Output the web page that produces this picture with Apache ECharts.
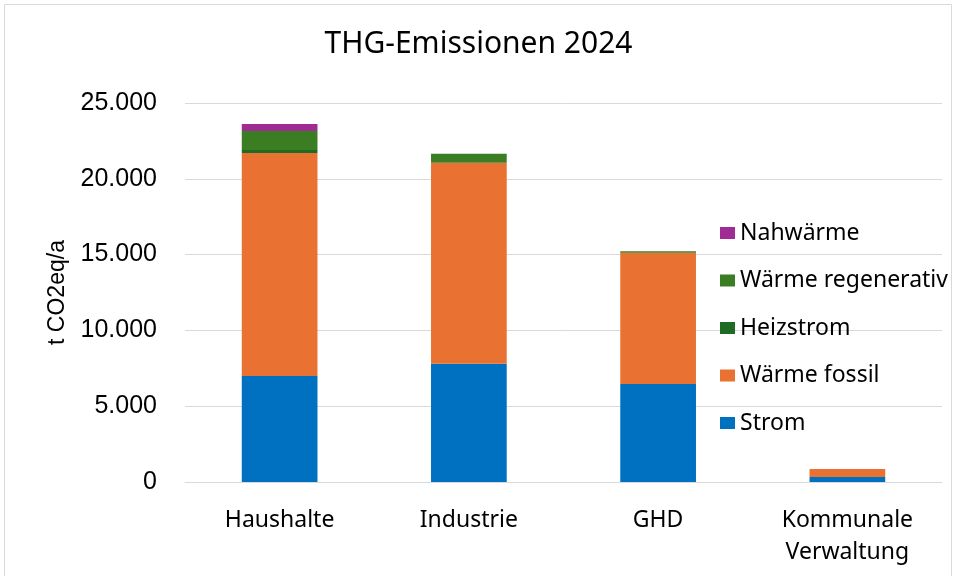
<!DOCTYPE html>
<html>
<head>
<meta charset="utf-8">
<script src="https://cdn.jsdelivr.net/npm/echarts@6/dist/echarts.min.js"></script>
<style>
  html, body { margin: 0; padding: 0; background: #fff; }
  #chart { width: 957px; height: 576px; }
</style>
</head>
<body>
<div id="chart"></div>
<script>
// data
const categories = ["Haushalte", "Industrie", "GHD", "Kommunale\nVerwaltung"];
const strom = [7000, 7800, 6460, 330];
const waermeFossil = [14700, 13260, 8670, 530];
const heizstrom = [200, 0, 0, 0];
const waermeRegenerativ = [1250, 600, 90, 0];
const nahwaerme = [460, 0, 0, 0];

const font = "'Noto Sans', sans-serif";
const arial = "'Liberation Sans', Arial, sans-serif";

const mkSeries = (name, data, color) => ({
  name: name,
  type: "bar",
  stack: "total",
  data: data,
  barWidth: "40%",
  itemStyle: { color: color },
});

const chart = echarts.init(document.getElementById("chart"), null, { renderer: "canvas" });

chart.setOption({
  backgroundColor: "#fff",
  animation: false,
  title: {
    text: "THG-Emissionen 2024",
    left: "center",
    top: 24,
    textStyle: { fontFamily: font, fontSize: 30, fontWeight: "normal", color: "#000" },
  },
  legend: {
    orient: "vertical",
    left: 715,
    top: 216,
    itemGap: 23.5,
    itemWidth: 15,
    itemHeight: 12,
    icon: "rect",
    data: ["Nahwärme", "Wärme regenerativ", "Heizstrom", "Wärme fossil", "Strom"],
    textStyle: {
      fontFamily: font,
      fontSize: 23,
      lineHeight: 24,
      color: "#000",
    },
  },
  grid: { left: 185, right: 15, top: 103, bottom: 94 },
  xAxis: {
    type: "category",
    data: categories,
    axisTick: { show: false },
    axisLine: { lineStyle: { color: "#d9d9d9", width: 1 } },
    axisLabel: { fontFamily: font, fontSize: 23, color: "#000", margin: 22, lineHeight: 32 },
  },
  yAxis: {
    type: "value",
    min: 0,
    max: 25000,
    interval: 5000,
    name: "t CO2eq/a",
    nameLocation: "middle",
    nameGap: 112,
    nameTextStyle: { fontFamily: arial, fontSize: 23, color: "#000" },
    axisLabel: {
      fontFamily: arial,
      fontSize: 25,
      color: "#000",
      margin: 28,
      formatter: (v) => v.toLocaleString("de-DE"),
    },
    splitLine: { lineStyle: { color: "#d9d9d9", width: 1 } },
  },
  series: [
    mkSeries("Strom", strom, "#0070C0"),
    mkSeries("Wärme fossil", waermeFossil, "#E97132"),
    mkSeries("Heizstrom", heizstrom, "#1E6B24"),
    mkSeries("Wärme regenerativ", waermeRegenerativ, "#3B7D23"),
    mkSeries("Nahwärme", nahwaerme, "#A02B93"),
  ],
  graphic: [
    {
      type: "rect",
      shape: { x: 4.5, y: 4.5, width: 947, height: 580 },
      style: { fill: "none", stroke: "#d9d9d9", lineWidth: 1 },
      silent: true,
    },
  ],
});
</script>
</body>
</html>
